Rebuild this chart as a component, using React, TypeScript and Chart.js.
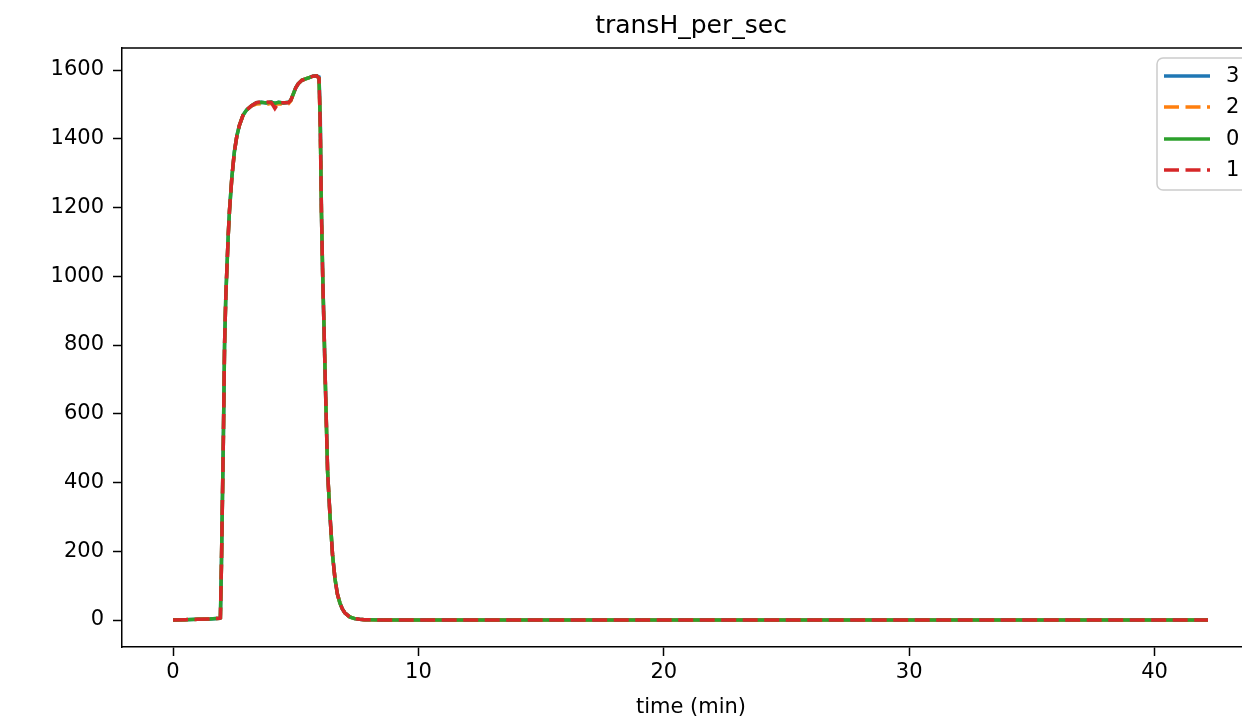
import { useEffect, useRef } from "react";
import { Chart, registerables } from "chart.js";

Chart.register(...registerables);

// ---- data ----
const TIME_MIN = [
  0, 0.5, 1.0, 1.5, 1.9, 1.93, 1.97, 2.0, 2.05, 2.1, 2.15, 2.2, 2.25, 2.3, 2.4, 2.5, 2.6, 2.7, 2.85,
  3.0, 3.2, 3.4, 3.6, 3.8, 4.0, 4.15, 4.3, 4.5, 4.7, 4.8, 4.9, 5.0, 5.1, 5.25, 5.4, 5.55,
  5.7, 5.85, 5.95, 6.0, 6.05, 6.1, 6.15, 6.2, 6.3, 6.4, 6.5, 6.6, 6.7, 6.8, 6.9, 7.0, 7.2,
  7.4, 7.6, 7.8, 8.0, 8.5, 9, 10, 12, 15, 20, 25, 30, 35, 40, 42.18,
];

const SERIES_0 = [
  0, 1, 2, 3, 5, 6, 150, 290, 520, 800, 940, 1030, 1120, 1190, 1290, 1362, 1408, 1438, 1468,
  1484, 1496, 1505, 1506, 1504, 1507, 1503, 1506, 1504, 1506, 1512, 1530, 1548, 1560, 1570, 1574, 1578,
  1582, 1583, 1576, 1440, 1180, 1000, 860, 710, 430, 300, 190, 120, 75, 50, 32, 21, 9,
  4, 2, 1, 0.5, 0, 0, 0, 0, 0, 0, 0, 0, 0, 0, 0,
];

const SERIES_1 = [
  0, 1, 2, 3, 5, 6, 150, 290, 520, 800, 940, 1030, 1120, 1190, 1290, 1362, 1408, 1438, 1468,
  1484, 1496, 1505, 1508, 1507, 1506, 1488, 1505, 1505, 1505, 1512, 1530, 1548, 1560, 1570, 1574, 1578,
  1582, 1583, 1576, 1440, 1180, 1000, 860, 710, 430, 300, 190, 120, 75, 50, 32, 21, 9,
  4, 2, 1, 0.5, 0, 0, 0, 0, 0, 0, 0, 0, 0, 0, 0,
];

const SERIES_2 = [
  0, 1, 2, 3, 5, 6, 150, 290, 520, 800, 940, 1030, 1120, 1190, 1290, 1362, 1408, 1438, 1468,
  1484, 1496, 1501, 1502, 1500, 1503, 1500, 1502, 1501, 1502, 1510, 1530, 1548, 1560, 1570, 1574, 1578,
  1582, 1583, 1576, 1440, 1180, 1000, 860, 710, 430, 300, 190, 120, 75, 50, 32, 21, 9,
  4, 2, 1, 0.5, 0, 0, 0, 0, 0, 0, 0, 0, 0, 0, 0,
];

const SERIES_3 = [
  0, 1, 2, 3, 5, 6, 150, 290, 520, 800, 940, 1030, 1120, 1190, 1290, 1362, 1408, 1438, 1468,
  1484, 1496, 1505, 1506, 1504, 1507, 1503, 1506, 1504, 1506, 1512, 1530, 1548, 1560, 1570, 1574, 1578,
  1582, 1583, 1580, 1470, 1180, 1000, 860, 710, 430, 300, 190, 120, 75, 50, 32, 21, 9,
  4, 2, 1, 0.5, 0, 0, 0, 0, 0, 0, 0, 0, 0, 0, 0,
];

const SERIES_LABELS = ["3", "2", "0", "1"];
const X_TICKS = [0, 10, 20, 30, 40];
const Y_TICKS = [0, 200, 400, 600, 800, 1000, 1200, 1400, 1600];
const TITLE = "transH_per_sec";
const X_LABEL = "time (min)";

// ---- styles ----
const COLORS = ["#1f77b4", "#ff7f0e", "#2ca02c", "#d62728"];
const DASHES: number[][] = [[], [15, 6.5], [], [15, 6.5]];
const FONT = "'DejaVu Sans', sans-serif";
const CANVAS_W = 1300;
const CANVAS_H = 721;
const LINE_W = 3.5;

export default function App() {
  const ref = useRef<HTMLCanvasElement | null>(null);

  useEffect(() => {
    const canvas = ref.current;
    if (!canvas) return;
    const seriesValues = [SERIES_3, SERIES_2, SERIES_0, SERIES_1];

    const decor = {
      id: "decor",
      afterDraw(chart: any) {
        const { ctx, chartArea } = chart;
        const { left, right, top, bottom } = chartArea;
        ctx.save();
        // spines top/right
        ctx.strokeStyle = "#000";
        ctx.lineWidth = 1.5;
        ctx.setLineDash([]);
        ctx.beginPath();
        ctx.moveTo(left, top);
        ctx.lineTo(right, top);
        ctx.lineTo(right, bottom);
        ctx.stroke();
        // title
        ctx.fillStyle = "#000";
        ctx.font = `25px ${FONT}`;
        ctx.textAlign = "center";
        ctx.textBaseline = "alphabetic";
        ctx.fillText(TITLE, (left + right) / 2, 33);
        // x label
        ctx.font = `21px ${FONT}`;
        ctx.fillText(X_LABEL, (left + right) / 2, 713);
        // legend
        const bx = 1157, by = 58, bw = 93, bh = 132, r = 6;
        ctx.beginPath();
        ctx.moveTo(bx + r, by);
        ctx.lineTo(bx + bw - r, by);
        ctx.arcTo(bx + bw, by, bx + bw, by + r, r);
        ctx.lineTo(bx + bw, by + bh - r);
        ctx.arcTo(bx + bw, by + bh, bx + bw - r, by + bh, r);
        ctx.lineTo(bx + r, by + bh);
        ctx.arcTo(bx, by + bh, bx, by + bh - r, r);
        ctx.lineTo(bx, by + r);
        ctx.arcTo(bx, by, bx + r, by, r);
        ctx.closePath();
        ctx.fillStyle = "rgba(255,255,255,0.8)";
        ctx.fill();
        ctx.strokeStyle = "#cccccc";
        ctx.lineWidth = 1.5;
        ctx.stroke();
        const rows = [76, 107, 139, 170];
        SERIES_LABELS.forEach((lab, i) => {
          ctx.beginPath();
          ctx.strokeStyle = COLORS[i];
          ctx.lineWidth = LINE_W;
          ctx.setLineDash(DASHES[i]);
          ctx.moveTo(1164, rows[i]);
          ctx.lineTo(1210, rows[i]);
          ctx.stroke();
          ctx.setLineDash([]);
          ctx.fillStyle = "#000";
          ctx.font = `21px ${FONT}`;
          ctx.textAlign = "left";
          ctx.textBaseline = "middle";
          ctx.fillText(lab, 1226, rows[i] + 1);
        });
        ctx.restore();
      },
    };

    const chart = new Chart(canvas, {
      type: "line",
      data: {
        datasets: SERIES_LABELS.map((lab, i) => ({
          label: lab,
          data: TIME_MIN.map((t, k) => ({ x: t, y: seriesValues[i][k] })),
          borderColor: COLORS[i],
          backgroundColor: COLORS[i],
          borderWidth: LINE_W,
          borderDash: DASHES[i],
          pointRadius: 0,
          tension: 0,
          fill: false,
          order: SERIES_LABELS.length - i,
        })),
      },
      options: {
        responsive: false,
        animation: false,
        devicePixelRatio: 1,
        layout: { padding: { top: 48, right: CANVAS_W - 1260, bottom: 0, left: 0 } },
        plugins: {
          legend: { display: false },
          title: { display: false },
          tooltip: { enabled: false },
        },
        scales: {
          x: {
            type: "linear",
            min: -2.08,
            max: 44.3,
            afterBuildTicks: (scale: any) => {
              scale.ticks = X_TICKS.map((v) => ({ value: v }));
            },
            afterFit: (scale: any) => {
              scale.height = CANVAS_H - 647;
            },
            grid: {
              drawOnChartArea: false,
              drawTicks: true,
              tickLength: 9,
              tickColor: "#000",
              tickWidth: 1.5,
            },
            border: { display: true, color: "#000", width: 1.5 },
            ticks: {
              color: "#000",
              font: { family: FONT, size: 21 },
              padding: 4,
              maxRotation: 0,
              callback: (v: any) => String(v),
            },
          },
          y: {
            type: "linear",
            min: -78.5,
            max: 1664,
            afterBuildTicks: (scale: any) => {
              scale.ticks = Y_TICKS.map((v) => ({ value: v }));
            },
            afterFit: (scale: any) => {
              scale.width = 122;
            },
            grid: {
              drawOnChartArea: false,
              drawTicks: true,
              tickLength: 9,
              tickColor: "#000",
              tickWidth: 1.5,
            },
            border: { display: true, color: "#000", width: 1.5 },
            ticks: {
              color: "#000",
              font: { family: FONT, size: 21 },
              padding: 9,
              callback: (v: any) => String(v),
            },
          },
        },
      },
      plugins: [decor],
    });

    return () => chart.destroy();
  }, []);

  return (
    <div
      style={{
        position: "fixed",
        left: 0,
        top: 0,
        width: 1242,
        height: 721,
        overflow: "hidden",
        background: "#fff",
      }}
    >
      <canvas
        ref={ref}
        width={CANVAS_W}
        height={CANVAS_H}
        style={{ width: CANVAS_W, height: CANVAS_H, display: "block" }}
      />
    </div>
  );
}
